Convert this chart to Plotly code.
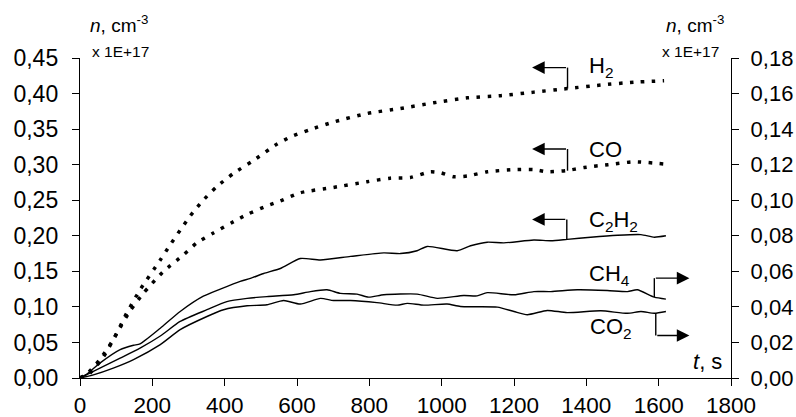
import plotly.graph_objects as go

# ---- data ----
# left axis (x 1E+17 cm^-3)
h2_t = [0, 18, 55, 92, 129, 166, 222, 249, 277, 305, 337, 378, 425, 480, 545, 582, 637, 701, 794, 886, 978, 1071, 1163, 1255, 1347, 1440, 1532, 1615]
h2_n = [0, 0.005, 0.026, 0.054, 0.091, 0.124, 0.166, 0.187, 0.208, 0.228, 0.248, 0.269, 0.288, 0.306, 0.329, 0.339, 0.3495, 0.360, 0.372, 0.379, 0.387, 0.394, 0.397, 0.402, 0.407, 0.412, 0.416, 0.418]

co_t = [0, 28, 65, 102, 138, 175, 231, 286, 323, 369, 425, 462, 517, 554, 609, 701, 794, 858, 914, 969, 997, 1034, 1071, 1126, 1200, 1255, 1292, 1343, 1394, 1460, 1532, 1615]
co_n = [0, 0.007, 0.030, 0.063, 0.094, 0.119, 0.150, 0.173, 0.190, 0.204, 0.220, 0.230, 0.242, 0.249, 0.2605, 0.268, 0.276, 0.281, 0.282, 0.290, 0.2886, 0.283, 0.284, 0.290, 0.293, 0.293, 0.290, 0.2915, 0.296, 0.300, 0.304, 0.301]

c2h2_t = [0, 18, 55, 111, 148, 166, 222, 277, 341, 388, 443, 471, 508, 554, 609, 665, 748, 840, 886, 932, 960, 1043, 1080, 1126, 1172, 1255, 1302, 1347, 1412, 1486, 1551, 1588, 1620]
c2h2_n = [0, 0.005, 0.021, 0.040, 0.046, 0.048, 0.070, 0.0935, 0.115, 0.125, 0.136, 0.140, 0.147, 0.154, 0.168, 0.166, 0.171, 0.176, 0.175, 0.179, 0.185, 0.179, 0.186, 0.191, 0.190, 0.194, 0.193, 0.195, 0.198, 0.2007, 0.2016, 0.198, 0.200]

# right axis (x 1E+17 cm^-3)
ch4_t = [0, 55, 111, 166, 222, 277, 351, 406, 462, 517, 591, 637, 683, 720, 766, 798, 840, 932, 988, 1061, 1098, 1126, 1200, 1255, 1302, 1375, 1458, 1514, 1541, 1588, 1620]
ch4_n = [0, 0.0056, 0.0112, 0.0168, 0.0236, 0.0318, 0.0384, 0.043, 0.0448, 0.0458, 0.0468, 0.0486, 0.0496, 0.0476, 0.0472, 0.0455, 0.0468, 0.0472, 0.0448, 0.0464, 0.0462, 0.048, 0.0468, 0.0486, 0.0486, 0.0496, 0.0492, 0.0486, 0.0496, 0.0455, 0.0444]

co2_t = [0, 37, 92, 148, 222, 277, 351, 397, 462, 517, 563, 609, 665, 701, 748, 821, 877, 905, 951, 1015, 1052, 1154, 1200, 1237, 1292, 1347, 1440, 1514, 1551, 1588, 1620]
co2_n = [0, 0.0018, 0.0056, 0.0104, 0.0188, 0.0272, 0.0346, 0.0384, 0.0406, 0.0412, 0.0436, 0.0416, 0.0448, 0.0436, 0.0436, 0.0424, 0.041, 0.042, 0.041, 0.0416, 0.0402, 0.0399, 0.0374, 0.0356, 0.038, 0.0368, 0.0378, 0.0364, 0.0374, 0.0364, 0.0374]

x_ticks = [0, 200, 400, 600, 800, 1000, 1200, 1400, 1600, 1800]
y_left_ticks = [0, 0.05, 0.10, 0.15, 0.20, 0.25, 0.30, 0.35, 0.40, 0.45]
y_right_ticks = [0, 0.02, 0.04, 0.06, 0.08, 0.10, 0.12, 0.14, 0.16, 0.18]

FONT = "Arial, Liberation Sans, sans-serif"
DOT = "3.5px,7.5px"

fig = go.Figure()
fig.add_trace(go.Scatter(x=h2_t, y=h2_n, mode="lines", line=dict(color="black", width=3.5, dash=DOT, shape="spline", smoothing=0.6), showlegend=False))
fig.add_trace(go.Scatter(x=co_t, y=co_n, mode="lines", line=dict(color="black", width=3.5, dash=DOT, shape="spline", smoothing=0.6), showlegend=False))
fig.add_trace(go.Scatter(x=c2h2_t, y=c2h2_n, mode="lines", line=dict(color="black", width=1.4, shape="spline", smoothing=0.6), showlegend=False))
fig.add_trace(go.Scatter(x=ch4_t, y=ch4_n, mode="lines", yaxis="y2", line=dict(color="black", width=1.4, shape="spline", smoothing=0.6), showlegend=False))
fig.add_trace(go.Scatter(x=co2_t, y=co2_n, mode="lines", yaxis="y2", line=dict(color="black", width=1.4, shape="spline", smoothing=0.6), showlegend=False))

# callout elbows: (x of vertical, y on curve, y of elbow, arrow tip x, label, label x, label y)
callouts = [
    (1348, 0.407, 0.4365, 1250, "H<sub>2</sub>", 1440, 0.437),
    (1348, 0.2915, 0.322, 1250, "CO", 1452, 0.322),
    (1346, 0.195, 0.223, 1250, "C<sub>2</sub>H<sub>2</sub>", 1476, 0.221),
    (1588, 0.1137, 0.1404, 1685, "CH<sub>4</sub>", 1465, 0.145),
    (1592, 0.091, 0.0598, 1685, "CO<sub>2</sub>", 1468, 0.070),
]
shapes = []
annotations = []
for xv, yc, ye, tip, lab, lx, ly in callouts:
    shapes.append(dict(type="line", xref="x", yref="y", x0=xv, x1=xv, y0=yc, y1=ye, line=dict(color="black", width=1.4)))
    annotations.append(dict(x=tip, y=ye, ax=xv, ay=ye, xref="x", yref="y", axref="x", ayref="y", text="", showarrow=True,
                            arrowhead=2, arrowsize=1.8, arrowwidth=1.4, arrowcolor="black", standoff=0))
    annotations.append(dict(x=lx, y=ly, xref="x", yref="y", text=lab, showarrow=False, font=dict(family=FONT, size=22, color="black"),
                            xanchor="center", yanchor="middle"))

annotations += [
    dict(x=0.012, y=1.107, xref="paper", yref="paper", text="<i>n</i>, cm<sup>-3</sup>", showarrow=False, xanchor="left", yanchor="middle",
         font=dict(family=FONT, size=19, color="black")),
    dict(x=0.015, y=1.019, xref="paper", yref="paper", text="x 1E+17", showarrow=False, xanchor="left", yanchor="middle",
         font=dict(family=FONT, size=15.5, color="black")),
    dict(x=0.993, y=1.107, xref="paper", yref="paper", text="<i>n</i>, cm<sup>-3</sup>", showarrow=False, xanchor="right", yanchor="middle",
         font=dict(family=FONT, size=19, color="black")),
    dict(x=0.985, y=1.019, xref="paper", yref="paper", text="x 1E+17", showarrow=False, xanchor="right", yanchor="middle",
         font=dict(family=FONT, size=15.5, color="black")),
    dict(x=1734, y=0.023, xref="x", yref="y", text="<i>t</i>, s", showarrow=False, xanchor="center", yanchor="middle",
         font=dict(family=FONT, size=22, color="black")),
]

axis_common = dict(showline=True, linecolor="black", linewidth=1.4, ticks="outside", ticklen=7, tickwidth=1.4,
                   tickcolor="black", showgrid=False, zeroline=False, automargin=False)

fig.update_layout(
    width=796, height=417,
    margin=dict(l=80, r=65, t=58, b=39),
    paper_bgcolor="white", plot_bgcolor="white",
    separators=",.",
    xaxis=dict(range=[0, 1800], tickvals=x_ticks, ticklabelstandoff=0,
               tickfont=dict(family=FONT, size=22.5, color="black"), **axis_common),
    yaxis=dict(range=[0, 0.45], tickvals=y_left_ticks, tickformat=".2f", ticklabelstandoff=9,
               tickfont=dict(family=FONT, size=23, color="black"), **axis_common),
    yaxis2=dict(range=[0, 0.18], tickvals=y_right_ticks, tickformat=".2f", overlaying="y", side="right", ticklabelstandoff=7,
                tickfont=dict(family=FONT, size=22, color="black"), **axis_common),
    shapes=shapes,
    annotations=annotations,
)

fig.write_html("out.html")
